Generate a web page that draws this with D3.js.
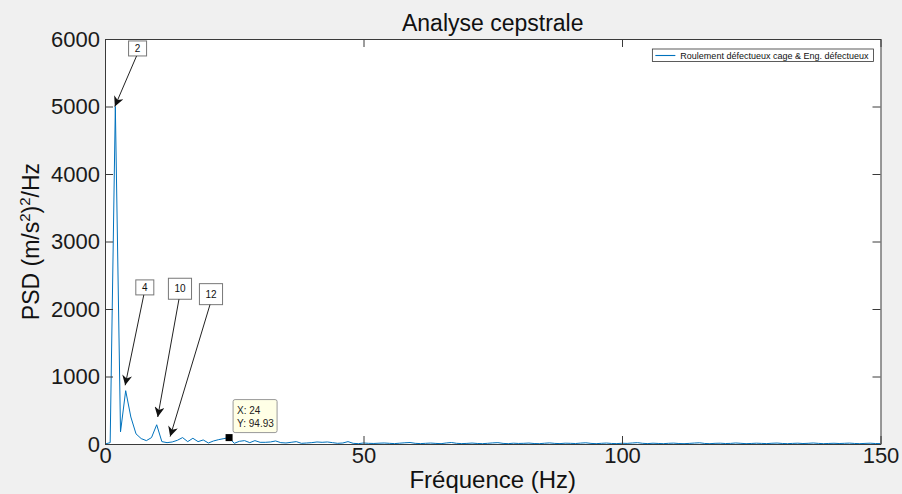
<!DOCTYPE html>
<html>
<head>
<meta charset="utf-8">
<script src="https://cdn.jsdelivr.net/npm/d3@7"></script>
<style>
  html, body { margin: 0; padding: 0; background: #f0f0f0; }
  svg { display: block; font-family: "Liberation Sans", Arial, sans-serif; }
</style>
</head>
<body>
<svg id="chart" width="902" height="494"></svg>
<script>
// Cepstrum amplitude (PSD) per quefrency bin
const psdValues = [
  0, 20, 5000, 180, 790, 400, 150, 80, 50, 95,
  285, 35, 20, 30, 55, 95, 35, 85, 35, 60,
  15, 45, 65, 80, 94.93, 10, 40, 50, 20, 50,
  25, 25, 30, 45, 20, 15, 25, 35, 10, 15,
  20, 30, 25, 30, 20, 10, 15, 35, 10, 5,
  15, 10, 8, 12, 15, 10, 6, 12, 18, 22,
  10, 6, 10, 14, 9, 5, 15, 22, 10, 6,
  9, 14, 8, 5, 10, 16, 20, 9, 5, 12,
  8, 10, 14, 7, 5, 11, 16, 9, 6, 12,
  10, 7, 13, 18, 9, 5, 10, 14, 8, 6,
  11, 9, 15, 20, 10, 6, 12, 8, 5, 10,
  13, 7, 5, 9, 14, 18, 8, 5, 10, 12,
  7, 9, 15, 10, 5, 8, 12, 9, 6, 11,
  14, 8, 5, 9, 12, 7, 10, 15, 9, 5,
  8, 11, 7, 10, 13, 8, 5, 9, 12, 7, 6
];
const quefrency = d3.range(0, psdValues.length);

const xTicks = [0, 50, 100, 150];
const yTicks = [0, 1000, 2000, 3000, 4000, 5000, 6000];

// Harmonic annotations: label, arrow tip (data), text box centre (data)
const annLabels = ["2", "4", "10", "12"];
const annTipX = [1.9, 3.9, 10.2, 12.6];
const annTipY = [5000, 870, 400, 110];
const annBoxX = [6.3, 7.7, 14.5, 20.5];
const annBoxY = [5860, 2320, 2300, 2220];

// Data tip
const tipX = 24;
const tipY = 94.93;

const legendLabel = "Roulement défectueux cage & Eng. défectueux";

const svg = d3.select("#chart");
const margin = { left: 105, right: 21.5, top: 39, bottom: 50 };
const W = 902, H = 494;
const x = d3.scaleLinear().domain([0, 150]).range([margin.left, W - margin.right]);
const y = d3.scaleLinear().domain([0, 6000]).range([H - margin.bottom, margin.top]);

const axisColor = "#3a3a3a";
const lineColor = "#0072BD";

// plot background
svg.append("rect")
  .attr("x", x(0)).attr("y", y(6000))
  .attr("width", x(150) - x(0)).attr("height", y(0) - y(6000))
  .attr("fill", "#fff");

svg.append("clipPath").attr("id", "clip")
  .append("rect")
  .attr("x", x(0)).attr("y", y(6000))
  .attr("width", x(150) - x(0)).attr("height", y(0) - y(6000));

// series line
const line = d3.line().x((d, i) => x(quefrency[i])).y(d => y(d));
svg.append("path")
  .datum(psdValues)
  .attr("clip-path", "url(#clip)")
  .attr("fill", "none")
  .attr("stroke", lineColor)
  .attr("stroke-width", 1)
  .attr("d", line);

// axes (ticks pointing inward, box all around)
const tickLen = 8;
const fontTick = 22;
const fmt = d3.format("d");
const xAxisB = d3.axisBottom(x).tickValues(xTicks).tickFormat(fmt).tickSizeInner(-tickLen).tickSizeOuter(0).tickPadding(3);
const xAxisT = d3.axisTop(x).tickValues(xTicks).tickSizeInner(-tickLen).tickSizeOuter(0).tickFormat("");
const yAxisL = d3.axisLeft(y).tickValues(yTicks).tickFormat(fmt).tickSizeInner(-tickLen).tickSizeOuter(0).tickPadding(5);
const yAxisR = d3.axisRight(y).tickValues(yTicks).tickSizeInner(-tickLen).tickSizeOuter(0).tickFormat("");

function styleAxis(g) {
  g.selectAll(".domain").attr("stroke", axisColor);
  g.selectAll(".tick line").attr("stroke", axisColor);
  g.selectAll(".tick text").attr("fill", "#1a1a1a").style("font-size", fontTick + "px")
    .style("font-family", "'Liberation Sans', Arial, sans-serif");
}

svg.append("g").attr("transform", `translate(0,${y(0)})`).call(xAxisB).call(styleAxis)
  .selectAll(".tick text").attr("dy", "0.72em");
svg.append("g").attr("transform", `translate(0,${y(6000)})`).call(xAxisT).call(styleAxis);
svg.append("g").attr("transform", `translate(${x(0)},0)`).call(yAxisL).call(styleAxis);
svg.append("g").attr("transform", `translate(${x(150)},0)`).call(yAxisR).call(styleAxis);

// title
svg.append("text")
  .attr("x", (x(0) + x(150)) / 2).attr("y", 31)
  .attr("text-anchor", "middle")
  .style("font-size", "23px").attr("fill", "#111")
  .text("Analyse cepstrale");

// x label
svg.append("text")
  .attr("x", (x(0) + x(150)) / 2).attr("y", 488)
  .attr("text-anchor", "middle")
  .style("font-size", "24px").attr("fill", "#111")
  .text("Fréquence (Hz)");

// y label with superscripts
const yl = svg.append("text")
  .attr("transform", `translate(39,${(y(0) + y(6000)) / 2}) rotate(-90)`)
  .attr("text-anchor", "middle")
  .style("font-size", "23px").attr("fill", "#111");
yl.append("tspan").text("PSD (m/s");
yl.append("tspan").attr("dy", -9).style("font-size", "15px").text("2");
yl.append("tspan").attr("dy", 9).text(")");
yl.append("tspan").attr("dy", -9).style("font-size", "15px").text("2");
yl.append("tspan").attr("dy", 9).text("/Hz");

// legend
const legX = x(150) - 7, legY = y(6000) + 10;
const leg = svg.append("g");
const legText = leg.append("text")
  .attr("y", legY + 9.5)
  .style("font-size", "9px").attr("fill", "#111")
  .text(legendLabel);
const tw = legText.node().getComputedTextLength();
const legW = tw + 33;
const legLeft = legX - legW;
legText.attr("x", legLeft + 28);
leg.insert("rect", "text")
  .attr("x", legLeft).attr("y", legY)
  .attr("width", legW).attr("height", 12.5)
  .attr("fill", "#fff").attr("stroke", "#333").attr("stroke-width", 0.8);
leg.append("line")
  .attr("x1", legLeft + 3).attr("x2", legLeft + 23)
  .attr("y1", legY + 6.5).attr("y2", legY + 6.5)
  .attr("stroke", lineColor).attr("stroke-width", 1.1);

// arrow head marker
svg.append("defs").append("marker")
  .attr("id", "arrowhead")
  .attr("viewBox", "0 0 10 10")
  .attr("refX", 10).attr("refY", 5)
  .attr("markerWidth", 12).attr("markerHeight", 10)
  .attr("markerUnits", "userSpaceOnUse")
  .attr("orient", "auto")
  .append("path").attr("d", "M0,0 L10,5 L0,10 L3,5 Z").attr("fill", "#111");

// harmonic annotations
annLabels.forEach((lab, i) => {
  const g = svg.append("g");
  const cx = x(annBoxX[i]), cy = y(annBoxY[i]);
  const t = g.append("text")
    .attr("x", cx).attr("y", cy + 3.5)
    .attr("text-anchor", "middle")
    .style("font-size", "10px").attr("fill", "#111")
    .text(lab);
  const w = Math.max(t.node().getComputedTextLength() + 12, 18);
  const h = lab.length > 1 ? 21 : 15;
  g.insert("rect", "text")
    .attr("x", cx - w / 2).attr("y", cy - h / 2)
    .attr("width", w).attr("height", h)
    .attr("fill", "#fff").attr("stroke", "#777").attr("stroke-width", 1);
  g.append("line")
    .attr("x1", cx - 1).attr("y1", cy + h / 2)
    .attr("x2", x(annTipX[i])).attr("y2", y(annTipY[i]))
    .attr("stroke", "#222").attr("stroke-width", 1)
    .attr("marker-end", "url(#arrowhead)");
});

// data tip
const px = x(tipX), py = y(tipY);
svg.append("rect")
  .attr("x", px - 3.5).attr("y", py - 3.5)
  .attr("width", 7).attr("height", 7).attr("fill", "#000");
const dt = svg.append("g");
dt.append("rect")
  .attr("x", px + 4).attr("y", py - 38)
  .attr("width", 44).attr("height", 33).attr("rx", 2)
  .attr("fill", "#ffffe6").attr("stroke", "#999").attr("stroke-width", 1);
dt.append("text").attr("x", px + 8).attr("y", py - 24)
  .style("font-size", "10px").attr("fill", "#222").text("X: " + tipX);
dt.append("text").attr("x", px + 8).attr("y", py - 11)
  .style("font-size", "10px").attr("fill", "#222").text("Y: " + tipY);
</script>
</body>
</html>
